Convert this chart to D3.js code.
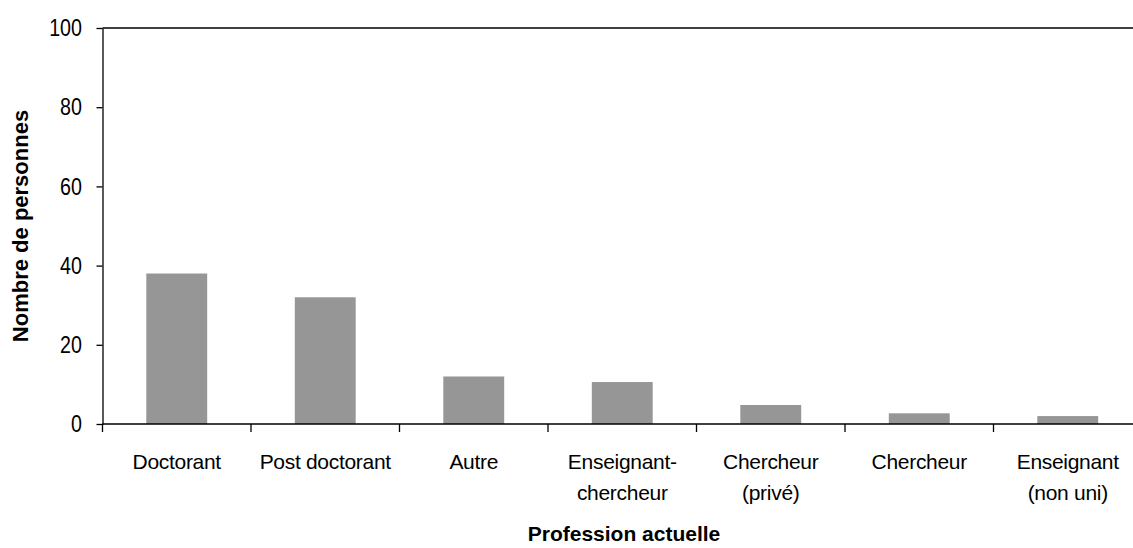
<!DOCTYPE html>
<html>
<head>
<meta charset="utf-8">
<script src="https://d3js.org/d3.v7.min.js"></script>
<style>
  body { margin: 0; background: #fff; }
  svg { display: block; font-family: "Liberation Sans", Arial, sans-serif; }
</style>
</head>
<body>
<svg id="chart" width="1133" height="548"></svg>
<script>
// data
var professions = ["Doctorant", "Post doctorant", "Autre", "Enseignant-\nchercheur", "Chercheur\n(privé)", "Chercheur", "Enseignant\n(non uni)"];
var counts = [38, 32, 12, 10.6, 4.8, 2.7, 2];
var yTicks = [0, 20, 40, 60, 80, 100];

var svgW = 1133, svgH = 548;
var plotLeft = 102.5, plotTop = 28, plotBottom = 424;
var plotRight = plotLeft + 7 * 148.5;   // last category runs past the picture edge

var svg = d3.select("#chart");

var x = d3.scaleBand().domain(professions).range([plotLeft, plotRight]).padding(0);
var y = d3.scaleLinear().domain([0, 100]).range([plotBottom, plotTop]);

var barFrac = 0.41;

// bars
svg.append("g")
  .selectAll("rect")
  .data(professions)
  .enter().append("rect")
    .attr("x", function(d) { return x(d) + x.bandwidth() * (1 - barFrac) / 2; })
    .attr("width", x.bandwidth() * barFrac)
    .attr("y", function(d, i) { return y(counts[i]); })
    .attr("height", function(d, i) { return plotBottom - y(counts[i]); })
    .attr("fill", "#969696");

// top border of plot area
svg.append("line")
  .attr("x1", plotLeft).attr("x2", svgW)
  .attr("y1", y(100)).attr("y2", y(100))
  .attr("stroke", "#000").attr("stroke-width", 1.3);

// y axis
var yAxis = svg.append("g")
  .attr("transform", "translate(" + plotLeft + ",0)")
  .call(d3.axisLeft(y).tickValues(yTicks).tickSize(6).tickSizeOuter(0));
yAxis.select(".domain").attr("stroke", "#000").attr("stroke-width", 1.3);
yAxis.selectAll(".tick line").attr("stroke", "#000").attr("stroke-width", 1.3);
yAxis.selectAll(".tick text")
  .attr("x", -25)
  .attr("transform", "scale(0.82,1)")
  .attr("fill", "#000")
  .style("font-family", "'Liberation Sans', Arial, sans-serif")
  .style("font-size", "24px");

// x axis baseline
svg.append("line")
  .attr("x1", plotLeft).attr("x2", svgW)
  .attr("y1", plotBottom).attr("y2", plotBottom)
  .attr("stroke", "#000").attr("stroke-width", 1.3);

// x tick marks between categories
svg.append("g")
  .selectAll("line")
  .data(professions)
  .enter().append("line")
    .attr("x1", function(d) { return x(d); })
    .attr("x2", function(d) { return x(d); })
    .attr("y1", plotBottom).attr("y2", plotBottom + 8)
    .attr("stroke", "#000").attr("stroke-width", 1.3);

// x labels
var labels = svg.append("g")
  .selectAll("text")
  .data(professions)
  .enter().append("text")
    .attr("text-anchor", "middle")
    .attr("font-size", "21px")
    .attr("fill", "#000")
    .attr("letter-spacing", "-0.3px");
labels.each(function(d) {
  var t = d3.select(this);
  var cx = x(d) + x.bandwidth() / 2;
  d.split("\n").forEach(function(line, i) {
    t.append("tspan").attr("x", cx).attr("y", 469 + i * 31).text(line);
  });
});

// axis titles
svg.append("text")
  .attr("x", 624).attr("y", 541)
  .attr("text-anchor", "middle")
  .attr("font-size", "21px")
  .attr("font-weight", "bold")
  .text("Profession actuelle");

svg.append("text")
  .attr("transform", "translate(28," + ((plotTop + plotBottom) / 2) + ") rotate(-90)")
  .attr("text-anchor", "middle")
  .attr("font-size", "22px")
  .attr("font-weight", "bold")
  .text("Nombre de personnes");
</script>
</body>
</html>
